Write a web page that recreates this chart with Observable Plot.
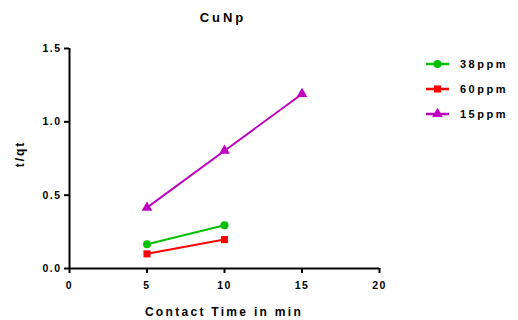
<!DOCTYPE html>
<html><head><meta charset="utf-8">
<script src="https://cdn.jsdelivr.net/npm/d3@7"></script>
<script src="https://cdn.jsdelivr.net/npm/@observablehq/plot@0.6"></script>
<style>
body{margin:0;background:#fff;}
svg{font-family:"Liberation Sans",Arial,sans-serif;}
</style></head>
<body><div id="chart"></div>
<script>
const seriesNames = ["38ppm", "60ppm", "15ppm"];
const seriesColors = ["#00c000", "#ff0000", "#c000c0"];
const seriesSymbols = ["circle", "square", "triangle"];
const time38 = [5, 10];
const values38 = [0.165, 0.295];
const time60 = [5, 10];
const values60 = [0.10, 0.197];
const time15 = [5, 10, 15];
const values15 = [0.415, 0.803, 1.19];
const xTicks = [0, 5, 10, 15, 20];
const yTicks = [0, 0.5, 1.0, 1.5];

const data = [
  ...time38.map((t, i) => ({s: "38ppm", x: t, y: values38[i]})),
  ...time60.map((t, i) => ({s: "60ppm", x: t, y: values60[i]})),
  ...time15.map((t, i) => ({s: "15ppm", x: t, y: values15[i]}))
];

const font = {fontSize: 10.5, fontWeight: "bold"};
const plot = Plot.plot({
  width: 518, height: 320,
  marginLeft: 69, marginRight: 139, marginTop: 48, marginBottom: 52,
  style: {fontFamily: "Liberation Sans, Arial, sans-serif", background: "#fff", letterSpacing: "1.5px"},
  x: {domain: [0, 20]},
  y: {domain: [0, 1.5]},
  color: {domain: seriesNames, range: seriesColors},
  symbol: {domain: seriesNames, range: seriesSymbols},
  marks: [
    Plot.axisX({ticks: xTicks, tickSize: 5, tickPadding: 8, tickFormat: d3.format("d"), strokeWidth: 2, stroke: "#000", fill: "#000", ...font, label: null}),
    Plot.axisY({ticks: yTicks, tickSize: 5, tickPadding: 3, tickFormat: d3.format(".1f"), strokeWidth: 2, stroke: "#000", fill: "#000", ...font, label: null}),
    Plot.ruleX([0], {strokeWidth: 2, stroke: "#000"}),
    Plot.ruleY([0], {strokeWidth: 2, stroke: "#000"}),
    Plot.line(data, {x: "x", y: "y", z: "s", stroke: "s", strokeWidth: 2}),
    Plot.dot(data, {x: "x", y: "y", fill: "s", symbol: "s", r: 4})
  ]
});
document.getElementById("chart").appendChild(plot);

const svg = d3.select(plot);
svg.append("text").attr("x", 223).attr("y", 22).attr("text-anchor", "middle")
  .attr("font-size", 13).attr("font-weight", "bold").attr("letter-spacing", "3px").text("CuNp");
svg.append("text").attr("x", 224).attr("y", 316).attr("text-anchor", "middle")
  .attr("font-size", 12).attr("font-weight", "bold").attr("letter-spacing", "2.3px").text("Contact Time in min");
svg.append("text").attr("transform", "translate(24,154) rotate(-90)").attr("text-anchor", "middle")
  .attr("font-size", 12).attr("font-weight", "bold").attr("letter-spacing", "2px").text("t/qt");

const sym = {circle: d3.symbolCircle, square: d3.symbolSquare, triangle: d3.symbolTriangle};
seriesNames.forEach((name, i) => {
  const g = svg.append("g").attr("transform", `translate(0,${64 + i * 25})`);
  g.append("line").attr("x1", 426).attr("x2", 449).attr("y1", 0).attr("y2", 0)
    .attr("stroke", seriesColors[i]).attr("stroke-width", 2.5);
  g.append("path").attr("transform", "translate(437.5,0)")
    .attr("d", d3.symbol(sym[seriesSymbols[i]], 50)()).attr("fill", seriesColors[i]);
  g.append("text").attr("x", 460).attr("y", 4).attr("text-anchor", "start").attr("font-size", 11).attr("font-weight", "bold")
    .attr("letter-spacing", "2.5px").text(name);
});
</script></body></html>
